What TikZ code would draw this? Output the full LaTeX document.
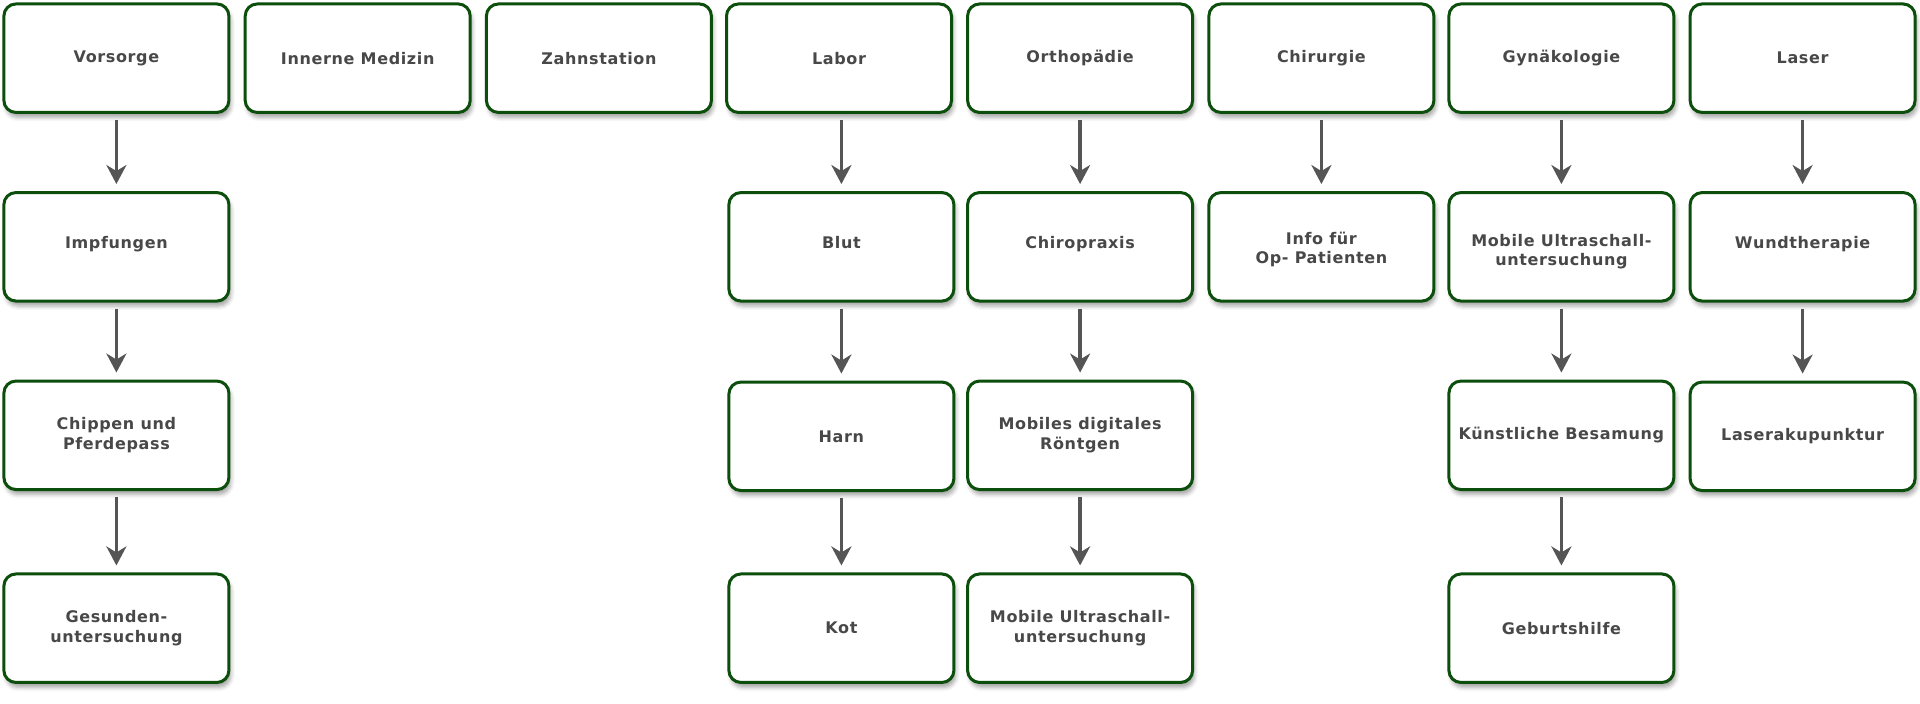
\documentclass[tikz,border=0pt]{standalone}
\usepackage{fontspec}
\newfontfamily\dvfont[LetterSpace=4]{DejaVu Sans}
\usetikzlibrary{arrows.meta,shadows.blur}
\definecolor{boxgreen}{RGB}{12,78,12}
\definecolor{txtgray}{RGB}{72,72,72}
\definecolor{arrgray}{RGB}{85,85,85}
\tikzset{
  boxnode/.style={rectangle, rounded corners=12pt, draw=boxgreen, line width=3pt, fill=white,
    minimum width=225pt, minimum height=108.5pt, align=center, inner sep=2pt,
    font=\dvfont\bfseries\fontsize{16pt}{19.5pt}\selectfont, text=txtgray,
    blur shadow={shadow xshift=2pt, shadow yshift=-5pt, shadow blur radius=4pt, shadow opacity=35}},
  upone/.style={text height=12pt, text depth=9pt},
  downtwo/.style={text height=#1},
  arr/.style={draw=arrgray, line width=3.5pt, -{Stealth[length=19pt,width=20pt,inset=6pt]},
    shorten <=6pt, shorten >=7pt}
}
\begin{document}
\begin{tikzpicture}[x=1pt,y=-1pt]
\useasboundingbox (0,0) rectangle (1920,704);
% row 1
\node[boxnode] (vor) at (116.4,58.2) {Vorsorge};
\node[boxnode] (inn) at (357.7,58.2) {Innerne Medizin};
\node[boxnode] (zahn) at (598.9,58.2) {Zahnstation};
\node[boxnode] (lab) at (839,58.2) {Labor};
\node[boxnode] (orth) at (1080.1,58.2) {Orthopädie};
\node[boxnode] (chir) at (1321.4,58.2) {Chirurgie};
\node[boxnode] (gyn) at (1561.4,58.2) {Gynäkologie};
\node[boxnode] (las) at (1802.6,58.2) {Laser};
% row 2
\node[boxnode,upone] (impf) at (116.4,246.8) {Impfungen};
\node[boxnode,upone] (blut) at (841.4,246.8) {Blut};
\node[boxnode,upone] (chiro) at (1080.1,246.8) {Chiropraxis};
\node[boxnode,downtwo=37pt] (info) at (1321.4,246.8) {Info für\\Op- Patienten};
\node[boxnode,downtwo=41pt] (mus1) at (1561.4,246.8) {Mobile Ultraschall-\\untersuchung};
\node[boxnode,upone] (wund) at (1802.6,246.8) {Wundtherapie};
% row 3
\node[boxnode] (chip) at (116.4,435.3) {Chippen und\\Pferdepass};
\node[boxnode] (harn) at (841.4,436.3) {Harn};
\node[boxnode] (rtg) at (1080.1,435.3) {Mobiles digitales\\Röntgen};
\node[boxnode] (kb) at (1561.4,435.3) {Künstliche Besamung};
\node[boxnode] (lak) at (1802.6,436.3) {Laserakupunktur};
% row 4
\node[boxnode] (ges) at (116.4,628.2) {Gesunden-\\untersuchung};
\node[boxnode] (kot) at (841.4,628.2) {Kot};
\node[boxnode] (mus2) at (1080.1,628.2) {Mobile Ultraschall-\\untersuchung};
\node[boxnode] (geb) at (1561.4,628.2) {Geburtshilfe};
% arrows
\draw[arr] (vor.south) -- (impf.north);
\draw[arr] (impf.south) -- (chip.north);
\draw[arr] (chip.south) -- (ges.north);
\draw[arr] (lab.south -| blut.north) -- (blut.north);
\draw[arr] (blut.south) -- (harn.north);
\draw[arr] (harn.south) -- (kot.north);
\draw[arr] (orth.south) -- (chiro.north);
\draw[arr] (chiro.south) -- (rtg.north);
\draw[arr] (rtg.south) -- (mus2.north);
\draw[arr] (chir.south) -- (info.north);
\draw[arr] (gyn.south) -- (mus1.north);
\draw[arr] (mus1.south) -- (kb.north);
\draw[arr] (kb.south) -- (geb.north);
\draw[arr] (las.south) -- (wund.north);
\draw[arr] (wund.south) -- (lak.north);
\end{tikzpicture}
\end{document}
